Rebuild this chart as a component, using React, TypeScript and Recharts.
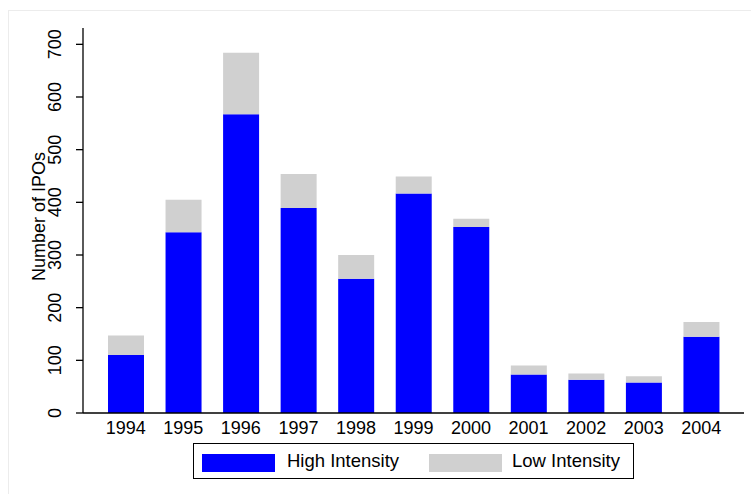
import React from 'react';
import { BarChart, Bar, XAxis, YAxis } from 'recharts';

const years = ['1994', '1995', '1996', '1997', '1998', '1999', '2000', '2001', '2002', '2003', '2004'];
const highIntensity = [110, 343, 567, 389, 255, 417, 353, 73, 63, 58, 145];
const lowIntensity = [37, 62, 117, 65, 45, 32, 16, 17, 12, 12, 28];
const yTicks = [0, 100, 200, 300, 400, 500, 600, 700];

const data = years.map((y, i) => ({ year: y, high: highIntensity[i], low: lowIntensity[i] }));

const FONT = '"Liberation Sans", Arial, Helvetica, sans-serif';

const YTick = (props: any) => {
  const { y, payload } = props;
  const bx = 61;
  return (
    <text
      x={bx}
      y={y}
      transform={`rotate(-90, ${bx}, ${y})`}
      textAnchor="middle"
      fontSize={18}
      fontFamily={FONT}
      fill="#000"
    >
      {payload.value}
    </text>
  );
};

const YLabel = (props: any) => {
  const vb = props.viewBox || {};
  const cy = (vb.y ?? 28) + (vb.height ?? 385) / 2 - 4;
  const bx = 44.5;
  return (
    <text
      x={bx}
      y={cy}
      transform={`rotate(-90, ${bx}, ${cy})`}
      textAnchor="middle"
      fontSize={18}
      fontFamily={FONT}
      fill="#000"
    >
      Number of IPOs
    </text>
  );
};

export default function App() {
  return (
    <div style={{ position: 'absolute', left: 0, top: 0, width: 751, height: 494, background: '#fff', overflow: 'hidden' }}>
      <div
        style={{
          position: 'absolute',
          left: 8,
          top: 10,
          width: 760,
          height: 500,
          borderTop: '1px solid #ececec',
          borderLeft: '1px solid #ececec',
        }}
      />
      <div style={{ position: 'absolute', left: 0, top: 0 }}>
        <BarChart
          width={751}
          height={494}
          data={data}
          margin={{ top: 28, right: 7, bottom: 0, left: 0 }}
          barCategoryGap={0}
        >
          <XAxis
            dataKey="year"
            height={81}
            tickLine={false}
            axisLine={{ stroke: '#000', strokeWidth: 1.3 }}
            padding={{ left: 14, right: 14 }}
            tick={{ fill: '#000', fontSize: 18, fontFamily: FONT }}
            interval={0}
          />
          <YAxis
            width={83}
            domain={[0, 731]}
            ticks={yTicks}
            tickSize={7}
            tickLine={{ stroke: '#000', strokeWidth: 1.3 }}
            axisLine={{ stroke: '#000', strokeWidth: 1.3 }}
            tick={<YTick />}
            label={<YLabel />}
            interval={0}
          />
          <Bar dataKey="high" stackId="a" fill="#0000ff" barSize={36} isAnimationActive={false} />
          <Bar dataKey="low" stackId="a" fill="#d0d0d0" barSize={36} isAnimationActive={false} />
        </BarChart>
      </div>
      <div
        style={{
          position: 'absolute',
          left: 193,
          top: 443,
          width: 439,
          height: 34,
          border: '1px solid #000',
          boxSizing: 'content-box',
          fontFamily: FONT,
          fontSize: 18.5,
          color: '#000',
        }}
      >
        <div style={{ position: 'absolute', left: 8, top: 10, width: 73, height: 18, background: '#0000ff' }} />
        <div style={{ position: 'absolute', left: 93, top: 5, lineHeight: '24px', whiteSpace: 'nowrap' }}>High Intensity</div>
        <div style={{ position: 'absolute', left: 235, top: 10, width: 73, height: 18, background: '#d0d0d0' }} />
        <div style={{ position: 'absolute', left: 318, top: 5, lineHeight: '24px', whiteSpace: 'nowrap' }}>Low Intensity</div>
      </div>
    </div>
  );
}
